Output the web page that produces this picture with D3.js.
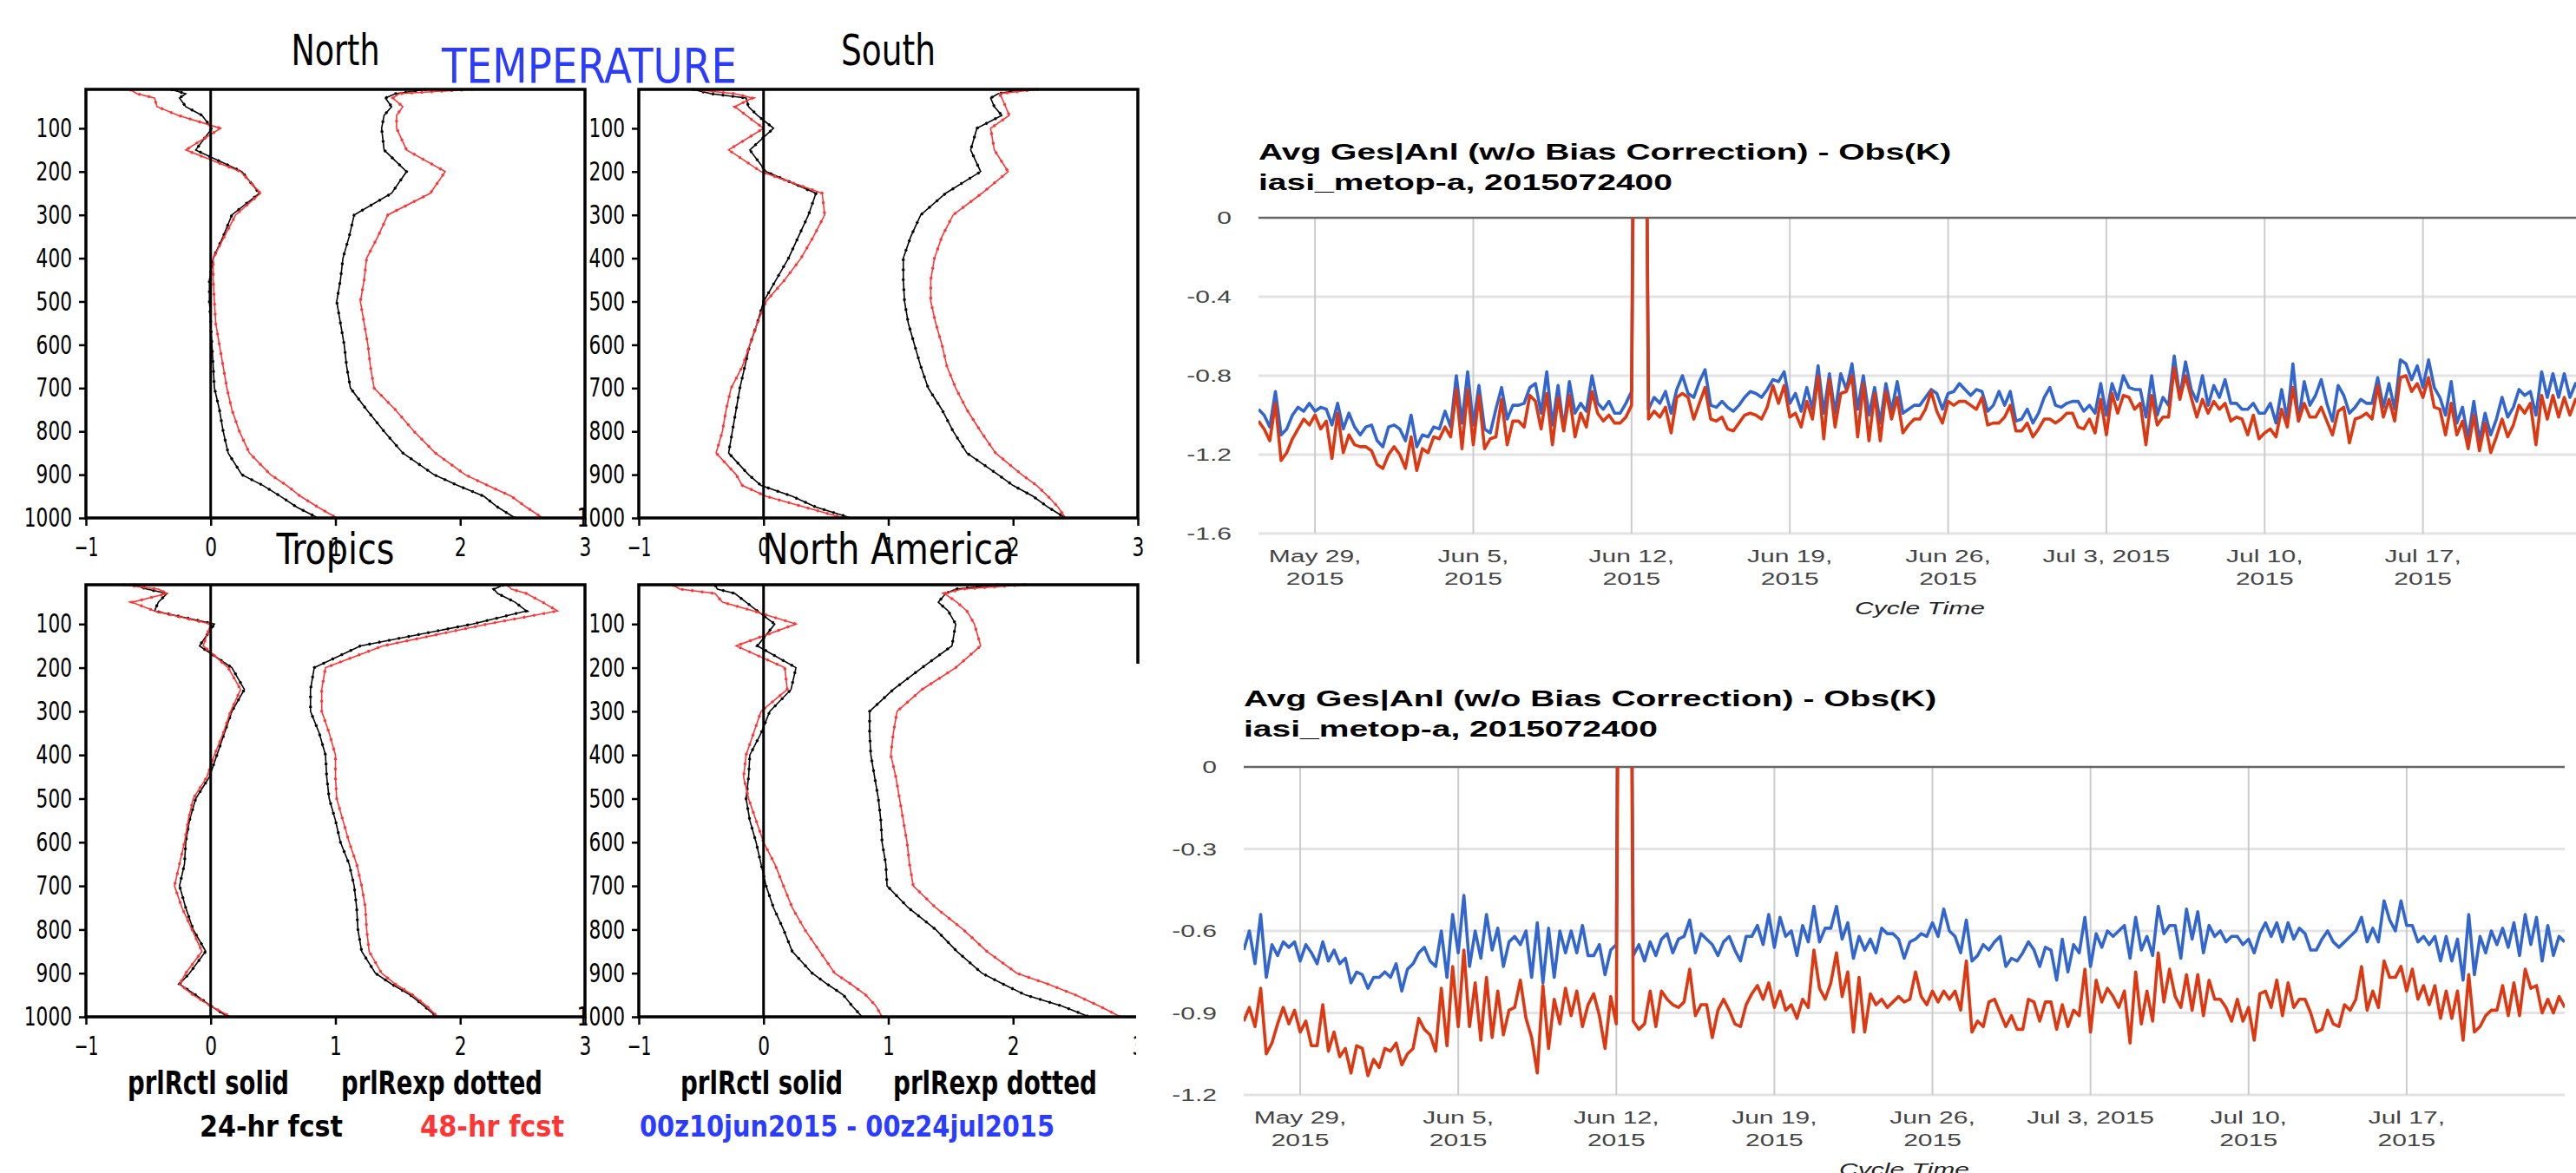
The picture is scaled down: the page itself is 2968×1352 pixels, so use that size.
<!DOCTYPE html>
<html>
<head>
<meta charset="utf-8">
<script src="https://cdn.jsdelivr.net/npm/d3@7"></script>
<style>
  body { margin: 0; background: #fff; }
  svg { display: block; }
</style>
</head>
<body>
<div id="chart"></div>
<script>
// ---------- GrADS temperature profiles (bias and rms, K) ----------
const levels = [10, 20, 30, 50, 70, 100, 150, 200, 250, 300, 350, 400, 450, 500, 550, 600, 650, 700, 750, 800, 850, 900, 925, 950, 975, 1000];
const pressureTicks = [100, 200, 300, 400, 500, 600, 700, 800, 900, 1000];
const valueTicks = [-1, 0, 1, 2, 3];

const northBias24 = [-0.32, -0.20, -0.25, -0.20, -0.07, 0.01, -0.12, 0.25, 0.39, 0.17, 0.10, 0.02, -0.01, -0.01, 0.00, 0.01, 0.02, 0.03, 0.07, 0.10, 0.14, 0.25, 0.42, 0.56, 0.69, 0.86];
const northBias48 = [-0.65, -0.59, -0.45, -0.43, -0.26, 0.08, -0.20, 0.24, 0.40, 0.20, 0.11, 0.02, 0.02, 0.03, 0.04, 0.07, 0.10, 0.13, 0.17, 0.23, 0.31, 0.48, 0.61, 0.72, 0.86, 1.01];
const northRms24 = [1.73, 1.48, 1.40, 1.45, 1.39, 1.37, 1.39, 1.57, 1.45, 1.15, 1.11, 1.06, 1.04, 1.01, 1.04, 1.07, 1.09, 1.12, 1.25, 1.39, 1.54, 1.79, 1.98, 2.19, 2.30, 2.44];
const northRms48 = [2.10, 1.51, 1.46, 1.54, 1.49, 1.49, 1.57, 1.88, 1.76, 1.42, 1.34, 1.25, 1.23, 1.20, 1.23, 1.26, 1.28, 1.31, 1.48, 1.63, 1.80, 2.04, 2.22, 2.41, 2.53, 2.66];

const southBias24 = [-0.57, -0.42, -0.14, -0.12, -0.05, 0.08, -0.11, 0.02, 0.42, 0.36, 0.28, 0.20, 0.10, 0.00, -0.05, -0.11, -0.15, -0.19, -0.22, -0.25, -0.28, -0.12, -0.02, 0.23, 0.42, 0.70];
const southBias48 = [-0.57, -0.23, -0.09, -0.23, -0.14, 0.00, -0.28, -0.02, 0.47, 0.49, 0.40, 0.30, 0.17, 0.02, -0.05, -0.11, -0.17, -0.26, -0.30, -0.33, -0.38, -0.22, -0.17, 0.02, 0.33, 0.64];
const southRms24 = [2.07, 1.88, 1.82, 1.85, 1.91, 1.71, 1.66, 1.74, 1.46, 1.26, 1.18, 1.12, 1.12, 1.13, 1.16, 1.21, 1.26, 1.32, 1.43, 1.52, 1.63, 1.88, 2.00, 2.16, 2.28, 2.42];
const southRms48 = [2.20, 1.89, 1.91, 1.94, 1.97, 1.82, 1.85, 1.96, 1.75, 1.52, 1.43, 1.37, 1.34, 1.34, 1.38, 1.43, 1.47, 1.54, 1.63, 1.74, 1.86, 2.07, 2.19, 2.28, 2.36, 2.42];

const tropBias24 = [-0.62, -0.51, -0.35, -0.42, -0.45, 0.03, -0.09, 0.17, 0.27, 0.17, 0.11, 0.05, -0.01, -0.12, -0.17, -0.20, -0.21, -0.25, -0.20, -0.14, -0.04, -0.17, -0.25, -0.12, 0.00, 0.14];
const tropBias48 = [-0.70, -0.42, -0.35, -0.63, -0.45, 0.00, -0.06, 0.14, 0.24, 0.16, 0.10, 0.03, -0.03, -0.14, -0.18, -0.21, -0.25, -0.29, -0.23, -0.15, -0.07, -0.20, -0.25, -0.14, 0.00, 0.16];
const tropRms24 = [2.35, 2.27, 2.30, 2.44, 2.53, 2.10, 1.20, 0.83, 0.80, 0.80, 0.87, 0.92, 0.93, 0.95, 1.00, 1.04, 1.11, 1.15, 1.17, 1.18, 1.21, 1.32, 1.45, 1.60, 1.71, 1.81];
const tropRms48 = [2.38, 2.41, 2.53, 2.66, 2.78, 2.22, 1.38, 0.92, 0.89, 0.89, 0.95, 1.00, 1.00, 1.01, 1.06, 1.11, 1.17, 1.21, 1.24, 1.25, 1.27, 1.37, 1.48, 1.62, 1.73, 1.82];

const naBias24 = [-0.39, -0.37, -0.23, -0.14, -0.05, 0.09, -0.05, 0.26, 0.22, 0.05, -0.02, -0.11, -0.12, -0.14, -0.11, -0.06, -0.02, 0.02, 0.08, 0.16, 0.23, 0.39, 0.51, 0.64, 0.71, 0.79];
const naBias48 = [-0.73, -0.67, -0.39, -0.33, -0.08, 0.26, -0.22, 0.17, 0.19, -0.02, -0.08, -0.14, -0.16, -0.12, -0.06, 0.00, 0.09, 0.16, 0.23, 0.33, 0.45, 0.57, 0.70, 0.82, 0.90, 0.95];
const naRms24 = [1.88, 1.54, 1.46, 1.40, 1.48, 1.54, 1.51, 1.27, 1.04, 0.85, 0.85, 0.86, 0.89, 0.92, 0.94, 0.95, 0.98, 0.99, 1.16, 1.38, 1.55, 1.75, 1.92, 2.10, 2.39, 2.61];
const naRms48 = [2.10, 1.59, 1.45, 1.55, 1.63, 1.69, 1.74, 1.54, 1.27, 1.07, 1.04, 1.02, 1.06, 1.09, 1.12, 1.15, 1.17, 1.20, 1.38, 1.60, 1.79, 2.03, 2.28, 2.50, 2.69, 2.86];

// ---------- radiance monitoring time series, 6-hourly from 2015052612 to 2015072400 ----------
const topBlue = [
  -0.97, -1.00, -1.06, -0.88, -1.10, -1.07, -1.00, -0.96, -0.98, -0.94,
  -0.98, -0.96, -0.97, -1.05, -0.94, -1.07, -0.99, -1.06, -1.10, -1.06,
  -1.05, -1.13, -1.16, -1.06, -1.05, -1.07, -1.13, -1.00, -1.16, -1.10,
  -1.11, -1.06, -1.07, -0.98, -1.06, -0.80, -1.04, -0.78, -1.05, -0.85,
  -1.07, -1.09, -0.97, -0.86, -1.02, -0.95, -0.95, -0.94, -0.86, -0.84,
  -0.99, -0.78, -1.05, -0.85, -1.07, -0.83, -0.99, -0.94, -0.98, -0.80,
  -0.94, -0.97, -0.93, -0.99, -0.99, -0.94, -0.88, 3.00, 3.00, -0.97,
  -0.91, -0.94, -0.88, -0.99, -0.87, -0.80, -0.89, -0.91, -0.83, -0.77,
  -0.95, -0.96, -0.93, -0.96, -0.98, -0.95, -0.91, -0.88, -0.89, -0.91,
  -0.87, -0.82, -0.83, -0.78, -0.94, -0.89, -0.98, -0.86, -0.97, -0.75,
  -0.99, -0.79, -0.99, -0.79, -0.87, -0.74, -0.97, -0.80, -1.00, -0.86,
  -1.04, -0.84, -0.98, -0.83, -0.99, -0.97, -0.95, -0.95, -0.91, -0.87,
  -0.89, -0.97, -0.89, -0.88, -0.84, -0.87, -0.90, -0.87, -0.88, -0.98,
  -0.95, -0.88, -0.95, -0.88, -1.03, -1.02, -0.97, -1.04, -0.99, -0.91,
  -0.86, -0.95, -0.96, -0.94, -0.93, -0.93, -0.98, -0.95, -0.99, -0.84,
  -1.00, -0.84, -0.92, -0.80, -0.86, -0.87, -0.87, -1.01, -0.80, -1.00,
  -0.91, -0.95, -0.70, -0.91, -0.73, -0.87, -0.93, -0.80, -0.95, -0.85,
  -0.91, -0.82, -0.94, -0.94, -0.97, -0.97, -0.94, -0.99, -0.99, -0.94,
  -1.04, -0.87, -1.02, -0.74, -1.03, -0.83, -0.95, -0.90, -0.82, -0.94,
  -1.03, -0.85, -0.90, -0.99, -0.96, -0.92, -0.94, -0.94, -0.81, -0.96,
  -0.84, -0.97, -0.72, -0.74, -0.82, -0.75, -0.86, -0.72, -0.86, -0.91,
  -1.00, -0.83, -1.04, -0.96, -1.12, -0.93, -1.13, -0.99, -1.10, -1.02,
  -0.91, -1.01, -0.96, -0.87, -0.90, -0.88, -1.00, -0.78, -0.91, -0.79,
  -0.91, -0.79, -0.91, -0.84, -0.88
];
const topRed = [
  -1.03, -1.07, -1.13, -0.94, -1.23, -1.19, -1.12, -1.07, -1.02, -1.05,
  -1.00, -1.07, -1.03, -1.22, -0.99, -1.19, -1.10, -1.15, -1.16, -1.16,
  -1.18, -1.25, -1.27, -1.20, -1.16, -1.20, -1.27, -1.11, -1.28, -1.17,
  -1.19, -1.11, -1.12, -1.06, -1.11, -0.87, -1.17, -0.87, -1.15, -0.90,
  -1.17, -1.12, -1.11, -0.92, -1.15, -1.03, -1.03, -1.06, -0.90, -0.93,
  -1.07, -0.89, -1.15, -0.91, -1.08, -0.90, -1.11, -0.99, -1.06, -0.88,
  -0.99, -1.03, -1.00, -1.04, -1.04, -1.01, -0.95, 3.00, 3.00, -1.02,
  -0.98, -1.01, -0.96, -1.09, -0.91, -0.89, -0.91, -1.02, -0.94, -0.86,
  -1.02, -1.03, -1.01, -1.07, -1.08, -1.04, -1.00, -0.99, -1.00, -1.02,
  -0.96, -0.85, -0.94, -0.85, -1.01, -0.99, -1.06, -0.93, -1.02, -0.80,
  -1.12, -0.82, -1.06, -0.89, -0.88, -0.80, -1.11, -0.84, -1.13, -0.89,
  -1.13, -0.88, -1.02, -0.91, -1.09, -1.05, -1.02, -1.02, -0.97, -0.88,
  -0.98, -1.04, -0.93, -0.95, -0.93, -0.93, -0.95, -0.97, -0.91, -1.05,
  -1.04, -1.04, -1.01, -0.95, -1.08, -1.08, -1.04, -1.11, -1.07, -1.02,
  -1.02, -1.04, -1.02, -0.99, -0.99, -1.06, -1.07, -1.02, -1.09, -0.92,
  -1.10, -0.89, -0.99, -0.90, -0.91, -0.97, -0.94, -1.15, -0.90, -1.05,
  -1.01, -1.01, -0.76, -0.92, -0.80, -0.91, -1.01, -0.92, -0.99, -0.93,
  -0.97, -0.94, -1.03, -1.01, -1.02, -1.10, -1.00, -1.12, -1.09, -1.07,
  -1.11, -0.97, -1.06, -0.86, -1.03, -0.94, -1.01, -1.01, -0.96, -1.03,
  -1.10, -0.98, -0.96, -1.14, -1.02, -1.01, -0.99, -1.02, -0.85, -1.01,
  -0.92, -1.03, -0.81, -0.80, -0.88, -0.84, -0.91, -0.81, -0.96, -0.97,
  -1.10, -0.94, -1.10, -1.03, -1.17, -1.00, -1.18, -1.04, -1.19, -1.11,
  -1.02, -1.11, -1.05, -0.95, -0.99, -0.94, -1.15, -0.90, -1.02, -0.90,
  -1.01, -0.91, -1.00, -0.92, -0.95
];
const bottomBlue = [
  -0.67, -0.60, -0.72, -0.54, -0.77, -0.65, -0.69, -0.64, -0.66, -0.64,
  -0.71, -0.65, -0.68, -0.72, -0.64, -0.71, -0.67, -0.72, -0.70, -0.79,
  -0.75, -0.76, -0.81, -0.77, -0.77, -0.75, -0.77, -0.72, -0.82, -0.74,
  -0.72, -0.68, -0.66, -0.71, -0.73, -0.60, -0.77, -0.54, -0.68, -0.47,
  -0.73, -0.60, -0.70, -0.54, -0.67, -0.59, -0.73, -0.64, -0.62, -0.65,
  -0.60, -0.77, -0.57, -0.79, -0.59, -0.77, -0.60, -0.68, -0.60, -0.68,
  -0.58, -0.69, -0.69, -0.65, -0.76, -0.67, -0.65, 3.00, 3.00, -0.69,
  -0.65, -0.71, -0.64, -0.69, -0.63, -0.61, -0.68, -0.63, -0.62, -0.56,
  -0.68, -0.61, -0.63, -0.65, -0.69, -0.64, -0.62, -0.67, -0.71, -0.62,
  -0.62, -0.58, -0.65, -0.54, -0.66, -0.55, -0.62, -0.60, -0.69, -0.58,
  -0.64, -0.51, -0.64, -0.59, -0.59, -0.51, -0.63, -0.57, -0.70, -0.62,
  -0.67, -0.63, -0.68, -0.59, -0.61, -0.61, -0.63, -0.70, -0.64, -0.63,
  -0.61, -0.62, -0.57, -0.62, -0.52, -0.60, -0.62, -0.68, -0.56, -0.71,
  -0.69, -0.65, -0.67, -0.64, -0.62, -0.73, -0.70, -0.71, -0.68, -0.64,
  -0.67, -0.73, -0.66, -0.67, -0.78, -0.63, -0.75, -0.65, -0.68, -0.55,
  -0.73, -0.61, -0.66, -0.60, -0.62, -0.60, -0.58, -0.70, -0.55, -0.67,
  -0.62, -0.69, -0.51, -0.61, -0.58, -0.58, -0.70, -0.52, -0.63, -0.53,
  -0.68, -0.58, -0.62, -0.60, -0.64, -0.62, -0.62, -0.65, -0.63, -0.68,
  -0.61, -0.57, -0.62, -0.57, -0.64, -0.57, -0.63, -0.59, -0.61, -0.67,
  -0.67, -0.63, -0.60, -0.64, -0.66, -0.64, -0.62, -0.60, -0.55, -0.64,
  -0.59, -0.64, -0.49, -0.56, -0.60, -0.49, -0.58, -0.58, -0.64, -0.62,
  -0.65, -0.62, -0.71, -0.62, -0.71, -0.63, -0.78, -0.54, -0.76, -0.62,
  -0.68, -0.60, -0.65, -0.59, -0.66, -0.57, -0.69, -0.54, -0.65, -0.55,
  -0.71, -0.58, -0.69, -0.62, -0.64
];
const bottomRed = [
  -0.93, -0.88, -0.95, -0.81, -1.05, -1.01, -0.94, -0.88, -0.94, -0.89,
  -0.97, -0.93, -1.02, -1.02, -0.87, -1.04, -0.97, -1.06, -1.03, -1.12,
  -1.02, -1.03, -1.13, -1.07, -1.10, -1.03, -1.04, -1.01, -1.09, -1.05,
  -1.03, -0.92, -0.96, -0.98, -1.04, -0.81, -1.02, -0.73, -0.95, -0.67,
  -0.95, -0.79, -1.00, -0.77, -0.99, -0.82, -0.98, -0.89, -0.88, -0.78,
  -0.92, -0.99, -1.12, -0.80, -1.03, -0.85, -0.94, -0.81, -0.91, -0.82,
  -0.95, -0.87, -0.83, -0.91, -1.03, -0.84, -0.94, 3.00, 3.00, -0.93,
  -0.96, -0.94, -0.82, -0.95, -0.82, -0.85, -0.87, -0.88, -0.86, -0.74,
  -0.91, -0.87, -0.87, -0.99, -0.89, -0.85, -0.89, -0.94, -0.95, -0.87,
  -0.83, -0.80, -0.85, -0.79, -0.88, -0.82, -0.89, -0.87, -0.92, -0.85,
  -0.88, -0.67, -0.81, -0.85, -0.79, -0.68, -0.84, -0.75, -0.97, -0.77,
  -0.97, -0.83, -0.87, -0.85, -0.88, -0.86, -0.84, -0.86, -0.85, -0.75,
  -0.84, -0.87, -0.82, -0.86, -0.82, -0.85, -0.82, -0.89, -0.71, -0.97,
  -0.93, -0.95, -0.86, -0.85, -0.90, -0.95, -0.91, -0.96, -0.96, -0.85,
  -0.86, -0.93, -0.86, -0.86, -0.96, -0.87, -0.95, -0.89, -0.91, -0.74,
  -0.97, -0.78, -0.86, -0.81, -0.84, -0.88, -0.82, -1.01, -0.75, -0.94,
  -0.82, -0.93, -0.68, -0.86, -0.74, -0.84, -0.88, -0.76, -0.89, -0.76,
  -0.91, -0.78, -0.85, -0.85, -0.88, -0.93, -0.85, -0.93, -0.88, -1.00,
  -0.83, -0.82, -0.88, -0.78, -0.91, -0.79, -0.88, -0.85, -0.85, -0.90,
  -0.97, -0.96, -0.89, -0.94, -0.95, -0.87, -0.89, -0.85, -0.73, -0.89,
  -0.82, -0.88, -0.71, -0.77, -0.77, -0.73, -0.82, -0.74, -0.85, -0.80,
  -0.87, -0.80, -0.92, -0.82, -0.92, -0.82, -1.00, -0.76, -0.97, -0.95,
  -0.91, -0.89, -0.89, -0.80, -0.91, -0.79, -0.91, -0.74, -0.81, -0.80,
  -0.90, -0.85, -0.90, -0.84, -0.88
];

const weekTicks = ["2015-05-29", "2015-06-05", "2015-06-12", "2015-06-19", "2015-06-26", "2015-07-03", "2015-07-10", "2015-07-17"];
const weekLabels = [["May 29,", "2015"], ["Jun 5,", "2015"], ["Jun 12,", "2015"], ["Jun 19,", "2015"], ["Jun 26,", "2015"], ["Jul 3, 2015"], ["Jul 10,", "2015"], ["Jul 17,", "2015"]];
const topYTicks = [0, -0.4, -0.8, -1.2, -1.6];
const topYLabels = ["0", "-0.4", "-0.8", "-1.2", "-1.6"];
const bottomYTicks = [0, -0.3, -0.6, -0.9, -1.2];
const bottomYLabels = ["0", "-0.3", "-0.6", "-0.9", "-1.2"];

// ---------- setup ----------
const width = 2968;
const height = 1352;
const narrow = '"Liberation Sans Narrow", "Arial Narrow", "DejaVu Sans Condensed", sans-serif';
const arial = '"Liberation Sans", Arial, sans-serif';
const gradsRed = "#ff3434";
const gradsBlue = "#2b3cff";

const svg = d3.select("#chart").append("svg")
  .attr("width", width)
  .attr("height", height)
  .style("background", "#fff");

// force a text to a given pixel width
function fit(sel, w) {
  sel.attr("textLength", w).attr("lengthAdjust", "spacingAndGlyphs");
}
// widen text by a factor (the right hand screenshot is stretched sideways)
function stretch(sel, k) {
  sel.each(function () {
    const w = this.getComputedTextLength();
    d3.select(this).attr("textLength", w * k).attr("lengthAdjust", "spacingAndGlyphs");
  });
}

// ---------- GrADS panels ----------
const panels = [
  { title: "North", x0: 99, x1: 674, y0: 103, y1: 597, titleY: 75, titleW: 102, b24: northBias24, b48: northBias48, r24: northRms24, r48: northRms48 },
  { title: "South", x0: 736, x1: 1311, y0: 103, y1: 597, titleY: 75, titleW: 109, b24: southBias24, b48: southBias48, r24: southRms24, r48: southRms48 },
  { title: "Tropics", x0: 99, x1: 674, y0: 674, y1: 1172, titleY: 650, titleW: 136, b24: tropBias24, b48: tropBias48, r24: tropRms24, r48: tropRms48 },
  { title: "North America", x0: 736, x1: 1311, y0: 674, y1: 1172, titleY: 650, titleW: 290, b24: naBias24, b48: naBias48, r24: naRms24, r48: naRms48 }
];

function drawProfile(p) {
  const x = d3.scaleLinear().domain([-1, 3]).range([p.x0, p.x1]);
  const y = d3.scaleLinear().domain([10, 1000]).range([p.y0, p.y1]);
  const g = svg.append("g");

  const yAxis = g.append("g")
    .attr("transform", `translate(${p.x0},0)`)
    .call(d3.axisLeft(y).tickValues(pressureTicks).tickSize(8).tickPadding(8).tickFormat(d3.format("d")));
  const xAxis = g.append("g")
    .attr("transform", `translate(0,${p.y1})`)
    .call(d3.axisBottom(x).tickValues(valueTicks).tickSize(9).tickPadding(14).tickFormat(d3.format("d")));

  [yAxis, xAxis].forEach((a) => {
    a.select(".domain").remove();
    a.selectAll("line").attr("stroke", "#000").attr("stroke-width", 2.5);
    a.selectAll("text")
      .attr("fill", "#000")
      .style("font-family", narrow)
      .style("font-size", "30px")
      .each(function () {
        const t = d3.select(this);
        fit(t, 13.8 * t.text().length);
      });
  });

  const line = d3.line()
    .x((d) => x(d.v))
    .y((d) => y(d.p));

  const series = [
    { vals: p.r24, color: "#000" },
    { vals: p.r48, color: gradsRed },
    { vals: p.b24, color: "#000" },
    { vals: p.b48, color: gradsRed }
  ];

  series.forEach((s) => {
    const pts = levels.map((lv, i) => ({ p: lv, v: s.vals[i] }));
    // prlRctl solid
    g.append("path")
      .datum(pts)
      .attr("fill", "none")
      .attr("stroke", s.color)
      .attr("stroke-width", 1.6)
      .attr("d", line);
    // prlRexp dotted (lies on top of the control curve at this scale)
    g.append("path")
      .datum(pts)
      .attr("fill", "none")
      .attr("stroke", s.color)
      .attr("stroke-width", 3.2)
      .attr("stroke-dasharray", "2.5 9")
      .attr("d", line);
  });

  // zero line and frame
  g.append("line")
    .attr("x1", x(0)).attr("x2", x(0))
    .attr("y1", p.y0).attr("y2", p.y1)
    .attr("stroke", "#000").attr("stroke-width", 3);
  g.append("rect")
    .attr("x", p.x0).attr("y", p.y0)
    .attr("width", p.x1 - p.x0).attr("height", p.y1 - p.y0)
    .attr("fill", "none").attr("stroke", "#000").attr("stroke-width", 3.5);

  g.append("text")
    .attr("x", (p.x0 + p.x1) / 2)
    .attr("y", p.titleY)
    .attr("text-anchor", "middle")
    .style("font-family", narrow)
    .style("font-size", "50px")
    .attr("fill", "#000")
    .text(p.title)
    .call(fit, p.titleW);
}

panels.forEach(drawProfile);

// header and legend texts of the GrADS figure
function gradsText(str, x, y, size, color, w, weight) {
  svg.append("text")
    .attr("x", x).attr("y", y)
    .style("font-family", narrow)
    .style("font-size", size + "px")
    .style("font-weight", weight || "normal")
    .attr("fill", color)
    .text(str)
    .call(fit, w);
}
gradsText("TEMPERATURE", 509, 95, 55, gradsBlue, 340);
gradsText("prlRctl  solid", 147, 1261, 38, "#000", 186, "bold");
gradsText("prlRexp  dotted", 393, 1261, 38, "#000", 232, "bold");
gradsText("prlRctl  solid", 784, 1261, 38, "#000", 187, "bold");
gradsText("prlRexp  dotted", 1029, 1261, 38, "#000", 235, "bold");
gradsText("24-hr  fcst", 230, 1310, 34, "#000", 165, "bold");
gradsText("48-hr  fcst", 484, 1310, 34, gradsRed, 166, "bold");
gradsText("00z10jun2015  -  00z24jul2015", 737, 1310, 34, gradsBlue, 478, "bold");

// the monitoring screenshot covers the lower right edge of the last panel
svg.append("rect")
  .attr("x", 1309).attr("y", 765)
  .attr("width", 80).attr("height", height - 765)
  .attr("fill", "#fff");

// ---------- monitoring line charts ----------
const parseDay = d3.utcParse("%Y-%m-%d");
const cycleStart = Date.UTC(2015, 4, 26, 12);
const cycles = topBlue.map((_, k) => new Date(cycleStart + k * 6 * 3600 * 1000));
const tickDates = weekTicks.map(parseDay);

const timeCharts = [
  { id: "top", left: 1450, right: 2974, top: 251, bottom: 615, yTicks: topYTicks, yLabels: topYLabels, blue: topBlue, red: topRed, titleY: 184 },
  { id: "bottom", left: 1433, right: 2955, top: 884, bottom: 1262, yTicks: bottomYTicks, yLabels: bottomYLabels, blue: bottomBlue, red: bottomRed, titleY: 814 }
];

function drawTimeChart(c) {
  const x = d3.scaleUtc().domain([cycles[0], cycles[cycles.length - 1]]).range([c.left, c.right]);
  const y = d3.scaleLinear().domain([c.yTicks[c.yTicks.length - 1], 0]).range([c.bottom, c.top]);
  const g = svg.append("g");
  const xEnd = Math.min(c.right, width);

  // titles
  g.append("text")
    .attr("x", c.left).attr("y", c.titleY)
    .style("font-family", arial).style("font-size", "26px").style("font-weight", "bold")
    .attr("fill", "#000")
    .text("Avg Ges|Anl (w/o Bias Correction) - Obs(K)")
    .call(stretch, 1.5);
  g.append("text")
    .attr("x", c.left).attr("y", c.titleY + 35)
    .style("font-family", arial).style("font-size", "26px").style("font-weight", "bold")
    .attr("fill", "#000")
    .text("iasi_metop-a, 2015072400")
    .call(stretch, 1.5);

  // horizontal gridlines
  g.selectAll(".hgrid")
    .data(c.yTicks.filter((v) => v !== 0))
    .join("line")
    .attr("x1", c.left).attr("x2", xEnd)
    .attr("y1", (d) => y(d)).attr("y2", (d) => y(d))
    .attr("stroke", "#e3e3e3").attr("stroke-width", 3);

  // vertical gridlines
  g.selectAll(".vgrid")
    .data(tickDates)
    .join("line")
    .attr("x1", (d) => x(d)).attr("x2", (d) => x(d))
    .attr("y1", c.top).attr("y2", c.bottom)
    .attr("stroke", "#cccccc").attr("stroke-width", 2);

  // baseline
  g.append("line")
    .attr("x1", c.left).attr("x2", xEnd)
    .attr("y1", y(0)).attr("y2", y(0))
    .attr("stroke", "#666").attr("stroke-width", 2.5);

  // y labels
  g.selectAll(".ylab")
    .data(c.yTicks)
    .join("text")
    .attr("x", c.left - 31)
    .attr("y", (d) => y(d))
    .attr("dy", "0.36em")
    .attr("text-anchor", "end")
    .style("font-family", arial).style("font-size", "20px")
    .attr("fill", "#444")
    .text((d, i) => c.yLabels[i])
    .call(stretch, 1.5);

  // x labels
  tickDates.forEach((d, i) => {
    weekLabels[i].forEach((str, j) => {
      g.append("text")
        .attr("x", x(d))
        .attr("y", c.bottom + 33 + j * 26)
        .attr("text-anchor", "middle")
        .style("font-family", arial).style("font-size", "20px")
        .attr("fill", "#444")
        .text(str)
        .call(stretch, 1.5);
    });
  });

  g.append("text")
    .attr("x", (c.left + c.right) / 2)
    .attr("y", c.bottom + 93)
    .attr("text-anchor", "middle")
    .style("font-family", arial).style("font-size", "20px").style("font-style", "italic")
    .attr("fill", "#222")
    .text("Cycle Time")
    .call(stretch, 1.5);

  // series, clipped to the chart area like the original
  g.append("clipPath")
    .attr("id", "clip-" + c.id)
    .append("rect")
    .attr("x", c.left).attr("y", c.top)
    .attr("width", xEnd - c.left).attr("height", c.bottom - c.top);

  const line = d3.line()
    .x((d, k) => x(cycles[k]))
    .y((d) => y(d));

  const plot = g.append("g").attr("clip-path", `url(#clip-${c.id})`);
  [{ vals: c.blue, color: "#3366cc" }, { vals: c.red, color: "#dc3912" }].forEach((s) => {
    plot.append("path")
      .datum(s.vals)
      .attr("fill", "none")
      .attr("stroke", s.color)
      .attr("stroke-width", 3.6)
      .attr("stroke-linejoin", "round")
      .attr("d", line);
  });
}

timeCharts.forEach(drawTimeChart);
</script>
</body>
</html>
